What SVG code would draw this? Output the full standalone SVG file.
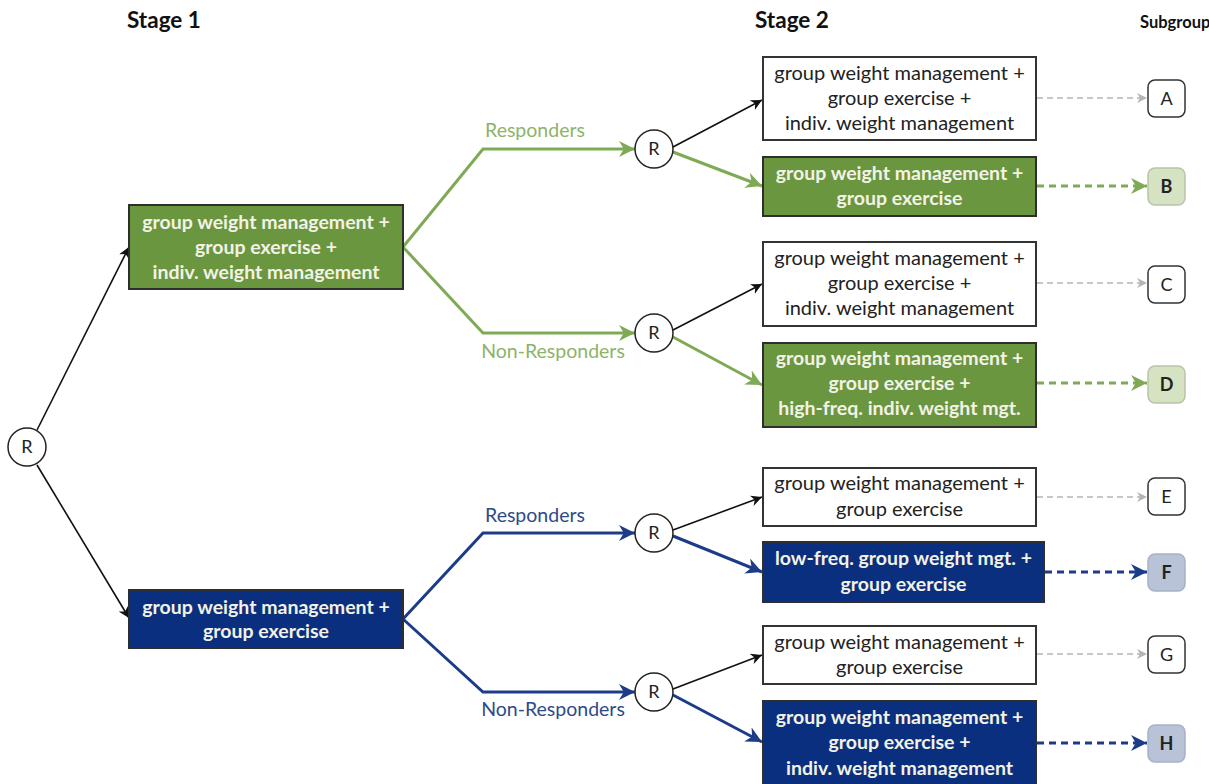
<svg xmlns="http://www.w3.org/2000/svg" width="1209" height="784" viewBox="0 0 1209 784">
<defs>
<style>
text{font-family:Lato,"Open Sans","Liberation Sans",sans-serif;text-anchor:middle}
.t{font-size:20px;fill:#222}
.tb{font-size:19.5px;font-weight:bold;fill:#f2f2e6}
.h{font-size:22.5px;font-weight:bold;fill:#111;text-anchor:start}
.hs{font-size:16.5px;font-weight:bold;fill:#111;text-anchor:start}
.r{font-size:18px;fill:#222}
.s{font-size:18px;fill:#222}
.sb{font-size:18px;font-weight:bold;fill:#222}
.lg{font-size:19.5px;fill:#8db36a}
.lb{font-size:19.5px;fill:#2e4a8a}
.wbox{fill:#fff;stroke:#333;stroke-width:2}
.gbox{fill:#6b9640;stroke:#2e2e2e;stroke-width:2}
.bbox{fill:#0b2f7f;stroke:#2e2e2e;stroke-width:2}
.circ{fill:#fff;stroke:#222;stroke-width:1.5}
.blk{fill:none;stroke:#111;stroke-width:1.6;marker-end:url(#ak)}
.grn{fill:none;stroke:#7faa55;stroke-width:3;marker-end:url(#ag)}
.blu{fill:none;stroke:#1c3c8a;stroke-width:3;marker-end:url(#ab)}
.dgr{fill:none;stroke:#b5b5b5;stroke-width:1.5;stroke-dasharray:6 4;marker-end:url(#ad)}
.dgn{fill:none;stroke:#7faa55;stroke-width:3;stroke-dasharray:7 5;marker-end:url(#ag)}
.dbl{fill:none;stroke:#1c3c8a;stroke-width:3;stroke-dasharray:7 5;marker-end:url(#ab)}
</style>
<marker id="ak" viewBox="0 0 10 10" refX="10" refY="5" markerWidth="11" markerHeight="11" markerUnits="userSpaceOnUse" orient="auto"><path d="M0,0 L10,5 L0,10 L3,5 z" fill="#111"/></marker>
<marker id="ag" viewBox="0 0 10 10" refX="10" refY="5" markerWidth="16" markerHeight="16" markerUnits="userSpaceOnUse" orient="auto"><path d="M0,0 L10,5 L0,10 L3,5 z" fill="#7faa55"/></marker>
<marker id="ab" viewBox="0 0 10 10" refX="10" refY="5" markerWidth="16" markerHeight="16" markerUnits="userSpaceOnUse" orient="auto"><path d="M0,0 L10,5 L0,10 L3,5 z" fill="#1c3c8a"/></marker>
<marker id="ad" viewBox="0 0 10 10" refX="10" refY="5" markerWidth="10" markerHeight="10" markerUnits="userSpaceOnUse" orient="auto"><path d="M0,0 L10,5 L0,10 L3,5 z" fill="#b5b5b5"/></marker>
</defs>
<rect width="1209" height="784" fill="#fff"/>

<g id="titles">
<text class="h" x="127" y="28">Stage 1</text>
<text class="h" x="755" y="28">Stage 2</text>
<text class="hs" x="1140" y="28">Subgroup</text>
</g>

<g id="connectors">
<path class="blk" d="M37,430 L129,247"/>
<path class="blk" d="M37,465 L129,618"/>
<path class="grn" d="M403,247 L483,149 L635,149"/>
<path class="grn" d="M403,247 L483,333 L635,333"/>
<path class="blu" d="M403,619 L483,533 L635,533"/>
<path class="blu" d="M403,619 L483,692 L635,692"/>
<path class="blk" d="M673,147 L762,100"/>
<path class="grn" d="M673,152 L762,186"/>
<path class="blk" d="M673,330 L762,284"/>
<path class="grn" d="M673,337 L762,385"/>
<path class="blk" d="M673,530 L762,497"/>
<path class="blu" d="M673,536 L762,572"/>
<path class="blk" d="M673,689 L762,655"/>
<path class="blu" d="M673,695 L762,742"/>
<path class="dgr" d="M1037,98 L1147,98"/>
<path class="dgn" d="M1037,186 L1147,186"/>
<path class="dgr" d="M1037,283 L1147,283"/>
<path class="dgn" d="M1037,383 L1147,383"/>
<path class="dgr" d="M1037,497 L1147,497"/>
<path class="dbl" d="M1045,572 L1147,572"/>
<path class="dgr" d="M1037,654 L1147,654"/>
<path class="dbl" d="M1037,743 L1147,743"/>
<text class="lg" x="535" y="137">Responders</text>
<text class="lg" x="553" y="358">Non-Responders</text>
<text class="lb" x="535" y="522">Responders</text>
<text class="lb" x="553" y="716">Non-Responders</text>
</g>

<g id="r0"><circle class="circ" cx="27" cy="447" r="19"/><text class="r" x="27" y="453">R</text></g>
<g id="r1"><circle class="circ" cx="654" cy="149" r="19"/><text class="r" x="654" y="155">R</text></g>
<g id="r2"><circle class="circ" cx="654" cy="333" r="19"/><text class="r" x="654" y="339">R</text></g>
<g id="r3"><circle class="circ" cx="654" cy="533" r="19"/><text class="r" x="654" y="539">R</text></g>
<g id="r4"><circle class="circ" cx="654" cy="692" r="19"/><text class="r" x="654" y="698">R</text></g>

<g id="s1green"><rect class="gbox" x="129" y="205" width="274" height="84"/>
<text class="tb" x="266" y="229">group weight management +</text>
<text class="tb" x="266" y="254">group exercise +</text>
<text class="tb" x="266" y="279">indiv. weight management</text></g>

<g id="s1blue"><rect class="bbox" x="129" y="590" width="274" height="58"/>
<text class="tb" x="266" y="614">group weight management +</text>
<text class="tb" x="266" y="638">group exercise</text></g>

<g id="boxA"><rect class="wbox" x="763" y="57" width="273" height="83"/>
<text class="t" x="899.5" y="80">group weight management +</text>
<text class="t" x="899.5" y="105">group exercise +</text>
<text class="t" x="899.5" y="130">indiv. weight management</text></g>

<g id="boxB"><rect class="gbox" x="763" y="157" width="273" height="59"/>
<text class="tb" x="899.5" y="180">group weight management +</text>
<text class="tb" x="899.5" y="205">group exercise</text></g>

<g id="boxC"><rect class="wbox" x="763" y="242" width="273" height="84"/>
<text class="t" x="899.5" y="265">group weight management +</text>
<text class="t" x="899.5" y="290">group exercise +</text>
<text class="t" x="899.5" y="315">indiv. weight management</text></g>

<g id="boxD"><rect class="gbox" x="763" y="343" width="273" height="84"/>
<text class="tb" x="899.5" y="365">group weight management +</text>
<text class="tb" x="899.5" y="390">group exercise +</text>
<text class="tb" x="899.5" y="415">high-freq. indiv. weight mgt.</text></g>

<g id="boxE"><rect class="wbox" x="763" y="468" width="273" height="58"/>
<text class="t" x="899.5" y="490">group weight management +</text>
<text class="t" x="899.5" y="516">group exercise</text></g>

<g id="boxF"><rect class="bbox" x="763" y="542" width="281" height="60"/>
<text class="tb" x="903.5" y="565">low-freq. group weight mgt. +</text>
<text class="tb" x="903.5" y="591">group exercise</text></g>

<g id="boxG"><rect class="wbox" x="763" y="626" width="273" height="58"/>
<text class="t" x="899.5" y="649">group weight management +</text>
<text class="t" x="899.5" y="674">group exercise</text></g>

<g id="boxH"><rect class="bbox" x="763" y="701" width="273" height="84"/>
<text class="tb" x="899.5" y="724">group weight management +</text>
<text class="tb" x="899.5" y="749">group exercise +</text>
<text class="tb" x="899.5" y="775">indiv. weight management</text></g>

<g id="subA"><rect x="1148" y="80" width="37" height="37" rx="7" fill="#fff" stroke="#333" stroke-width="1.5"/><text class="s" x="1166.5" y="105">A</text></g>
<g id="subB"><rect x="1148" y="168" width="37" height="37" rx="7" fill="#d5e3c3" stroke="#b8c4a8" stroke-width="1.5"/><text class="sb" x="1166.5" y="193">B</text></g>
<g id="subC"><rect x="1148" y="266" width="37" height="37" rx="7" fill="#fff" stroke="#333" stroke-width="1.5"/><text class="s" x="1166.5" y="291">C</text></g>
<g id="subD"><rect x="1148" y="366" width="37" height="37" rx="7" fill="#d5e3c3" stroke="#b8c4a8" stroke-width="1.5"/><text class="sb" x="1166.5" y="391">D</text></g>
<g id="subE"><rect x="1148" y="478" width="37" height="37" rx="7" fill="#fff" stroke="#333" stroke-width="1.5"/><text class="s" x="1166.5" y="503">E</text></g>
<g id="subF"><rect x="1148" y="554" width="37" height="37" rx="7" fill="#b8c3d8" stroke="#a8b2c6" stroke-width="1.5"/><text class="sb" x="1166.5" y="579">F</text></g>
<g id="subG"><rect x="1148" y="636" width="37" height="37" rx="7" fill="#fff" stroke="#333" stroke-width="1.5"/><text class="s" x="1166.5" y="661">G</text></g>
<g id="subH"><rect x="1148" y="725" width="37" height="37" rx="7" fill="#b8c3d8" stroke="#a8b2c6" stroke-width="1.5"/><text class="sb" x="1166.5" y="750">H</text></g>
</svg>
